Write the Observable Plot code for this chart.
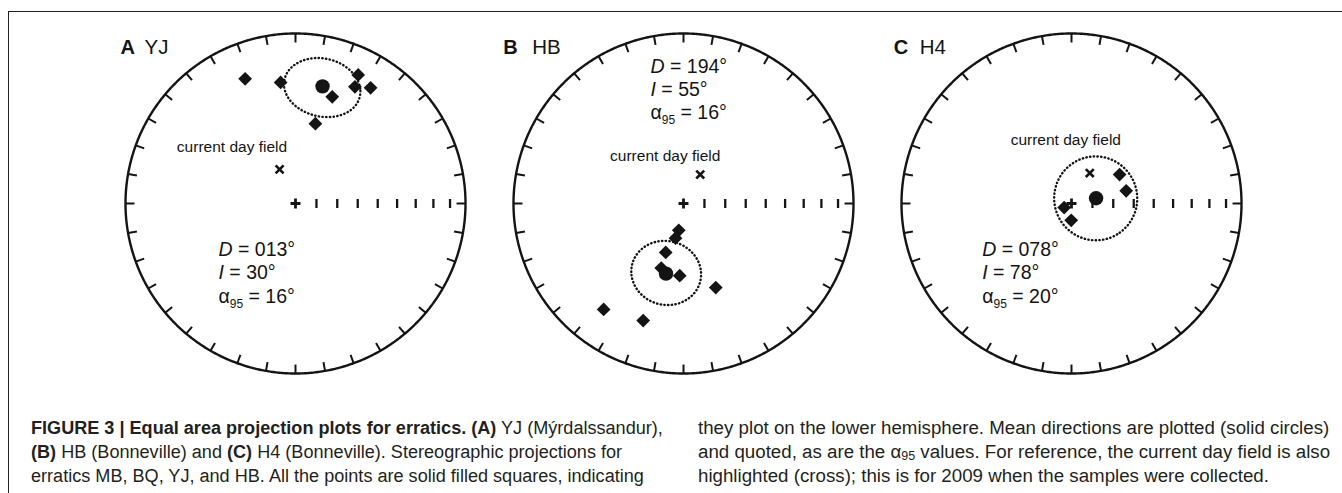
<!DOCTYPE html>
<html><head><meta charset="utf-8">
<script src="https://cdn.jsdelivr.net/npm/d3@7"></script>
<script src="https://cdn.jsdelivr.net/npm/@observablehq/plot@0.6"></script>
<style>
html,body{margin:0;padding:0;background:#fff;}
#root{position:relative;width:1342px;height:493px;overflow:hidden;font-family:"Liberation Sans",Arial,sans-serif;color:#231f20;}
#frame{position:absolute;left:8px;top:11px;right:-10px;bottom:-10px;border-top:1.5px solid #231f20;border-left:1.5px solid #231f20;}
.panel{position:absolute;top:12px;}
.panel svg{overflow:visible;}
.cap{position:absolute;top:416px;font-family:"Liberation Sans",Arial,sans-serif;font-size:18px;line-height:24px;white-space:nowrap;transform-origin:0 0;color:#231f20;}
.cap b{font-weight:bold;}
</style></head>
<body>
<div id="root">
  <div id="frame"></div>
  <div id="pA" class="panel" style="left:101px"></div>
  <div id="pB" class="panel" style="left:489px"></div>
  <div id="pC" class="panel" style="left:877px"></div>
  <div id="cap1" class="cap" style="left:31px">
    <div id="capLine1"><b>FIGURE 3 | Equal area projection plots for erratics. (A)</b> YJ (Mýrdalssandur),</div>
    <div><b>(B)</b> HB (Bonneville) and <b>(C)</b> H4 (Bonneville). Stereographic projections for</div>
    <div>erratics MB, BQ, YJ, and HB. All the points are solid filled squares, indicating</div>
  </div>
  <div id="cap2" class="cap" style="left:698px">
    <div id="capLine2">they plot on the lower hemisphere. Mean directions are plotted (solid circles)</div>
    <div>and quoted, as are the α<sub style="font-size:12px;vertical-align:-2px;line-height:0">95</sub> values. For reference, the current day field is also</div>
    <div>highlighted (cross); this is for 2009 when the samples were collected.</div>
  </div>
</div>
<script>
// ---------- data (declination / inclination, degrees) ----------
const panelLetters = ["A", "B", "C"];
const siteNames = ["YJ", "HB", "H4"];

const yjDec = [338, 353, 19, 26, 27, 33, 14];
const yjInc = [22, 29, 34, 17, 24, 20, 50];
const hbDec = [190, 193, 200, 199, 183, 159, 217, 199];
const hbInc = [77, 73, 65, 57, 55, 46, 23, 28];
const h4Dec = [59, 77, 241, 181];
const h4Inc = [63, 63, 86, 82];

const meanDec = [13, 194, 78];
const meanInc = [30, 55, 78];
const alpha95 = [16, 16, 20];

const fieldDec = [335, 30, 31];
const fieldInc = [72, 74, 73];

const declTicks = d3.range(0, 360, 10);          // perimeter ticks
const incTicks = [80, 70, 60, 50, 40, 30, 20, 10]; // E-axis inclination ticks

// ---------- layout (not data) ----------
const ink = "#141414";
const layout = [
  {tx: -5,  sx: 24,   st: 93,   sy: [222, 245.5, 269], fdx: -47.6, fdy: -22.6},
  {tx: -10.3, sx: 29, st: 137,  sy: [39, 62, 85],      fdx: -35,   fdy: -18.3},
  {tx: -7.7, sx: 26,  st: 80.7, sy: [222, 245.5, 269], fdx: -24,   fdy: -33.3}
];
const sampleDecs = [yjDec, hbDec, h4Dec];
const sampleIncs = [yjInc, hbInc, h4Inc];

const hemisphere = d3.geoCircle().center([0, 90]).radius(90).precision(0.5)();
const lon = d => 180 - d.dec;
const lat = d => d.inc;
const tickLat = 5.9;
const vbar = {draw(ctx) { ctx.moveTo(0, -4.5); ctx.lineTo(0, 4.5); }};
const pad3 = v => String(v).padStart(3, "0");

function makePanel(i) {
  const L = layout[i];
  const samples = sampleDecs[i].map((d, j) => ({dec: d, inc: sampleIncs[i][j]}));
  const mean = [{dec: meanDec[i], inc: meanInc[i]}];
  const field = [{dec: fieldDec[i], inc: fieldInc[i]}];
  const conf = d3.geoCircle().center([180 - meanDec[i], meanInc[i]]).radius(alpha95[i]).precision(1)();
  const stats = [`D = ${pad3(meanDec[i])}°`, `I = ${meanInc[i]}°`, `α95 = ${alpha95[i]}°`];
  const textFont = {fontFamily: "Liberation Sans, Arial, sans-serif", fill: ink};
  return Plot.plot({
    width: 388, height: 371,
    marginLeft: 24, marginRight: 24, marginTop: 21, marginBottom: 10,
    projection: {type: "azimuthal-equal-area", rotate: [0, -90], domain: hemisphere, inset: 0},
    style: {background: "transparent", overflow: "visible", color: ink},
    marks: [
      Plot.geo(hemisphere, {stroke: ink, strokeWidth: 2.4, fill: "none"}),
      Plot.link(declTicks, {x1: d => 180 - d, y1: () => 0, x2: d => 180 - d, y2: () => tickLat, stroke: ink, strokeWidth: 2}),
      Plot.dot(incTicks, {x: () => 90, y: d => d, symbol: vbar, fill: "none", stroke: ink, strokeWidth: 2.3}),
      Plot.dot([90], {x: () => 0, y: d => d, symbol: "plus", r: 3.3, stroke: ink, strokeWidth: 2.8}),
      Plot.geo(conf, {stroke: ink, strokeWidth: 2.4, strokeDasharray: "0.4,3.3", strokeLinecap: "round", fill: "none"}),
      Plot.dot(samples, {x: lon, y: lat, symbol: "diamond2", r: 6.2, fill: ink}),
      Plot.dot(mean, {x: lon, y: lat, r: 7.2, fill: ink}),
      Plot.dot(field, {x: lon, y: lat, symbol: "times", r: 3.7, stroke: ink, strokeWidth: 2.6}),
      Plot.text(field, {x: lon, y: lat, text: () => "current day field", dx: L.fdx, dy: L.fdy, fontSize: 15.5, ...textFont}),
      Plot.text([panelLetters[i]], {frameAnchor: "top-left", text: d => d, dx: L.tx, dy: 20, lineAnchor: "bottom", textAnchor: "start", fontSize: 20, fontWeight: "bold", ...textFont}),
      Plot.text([siteNames[i]], {frameAnchor: "top-left", text: d => d, dx: L.tx + L.sx, dy: 20, lineAnchor: "bottom", textAnchor: "start", fontSize: 20.5, ...textFont}),
      ...stats.map((s, k) => Plot.text([s], {frameAnchor: "top-left", text: d => d, dx: L.st, dy: L.sy[k], lineAnchor: "bottom", textAnchor: "start", fontSize: 19.5, ...textFont}))
    ]
  });
}

function richify(svg) {
  d3.select(svg).selectAll("text").each(function () {
    const t = this.textContent;
    let m;
    const sel = d3.select(this);
    if ((m = t.match(/^([DI]) = (.*)$/))) {
      sel.text(null);
      sel.append("tspan").attr("font-style", "italic").text(m[1]);
      sel.append("tspan").text(" = " + m[2]);
    } else if ((m = t.match(/^α95 = (.*)$/))) {
      sel.text(null);
      sel.append("tspan").text("α");
      sel.append("tspan").attr("font-size", 12).attr("dy", 5).text("95");
      sel.append("tspan").attr("dy", -5).text(" = " + m[1]);
    }
  });
}

["pA", "pB", "pC"].forEach((id, i) => {
  const svg = makePanel(i);
  richify(svg);
  document.getElementById(id).appendChild(svg);
});

// fit each caption column to the reference line length (632 px)
[["capLine1", "cap1"], ["capLine2", "cap2"]].forEach(([lineId, colId]) => {
  const w = document.getElementById(lineId).scrollWidth || 632;
  document.getElementById(colId).style.transform = `scaleX(${632 / w})`;
});
</script>
</body></html>
